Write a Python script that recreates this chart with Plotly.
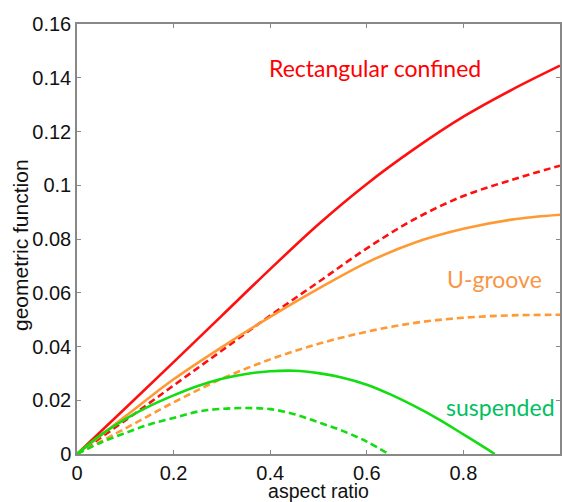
import plotly.graph_objects as go

# aspect ratio samples
x_rect_solid = [0, 0.1, 0.2, 0.3, 0.4, 0.5, 0.6, 0.7, 0.8, 0.9, 1.0]
y_rect_solid = [0, 0.017, 0.0342, 0.0515, 0.0688, 0.0855, 0.1005, 0.1137, 0.1255, 0.1355, 0.1445]

x_rect_dash = [0, 0.1, 0.2, 0.3, 0.4, 0.5, 0.6, 0.7, 0.8, 0.9, 1.0]
y_rect_dash = [0, 0.0125, 0.0255, 0.0385, 0.0515, 0.064, 0.0765, 0.0875, 0.096, 0.102, 0.1073]

x_ug_solid = [0, 0.1, 0.2, 0.3, 0.4, 0.5, 0.6, 0.7, 0.8, 0.9, 1.0]
y_ug_solid = [0, 0.014, 0.0278, 0.0398, 0.051, 0.0615, 0.0712, 0.0787, 0.0838, 0.0872, 0.089]

x_ug_dash = [0, 0.1, 0.2, 0.3, 0.4, 0.5, 0.6, 0.7, 0.8, 0.9, 1.0]
y_ug_dash = [0, 0.0095, 0.0192, 0.028, 0.0352, 0.041, 0.0455, 0.0488, 0.0507, 0.0516, 0.0518]

x_sus_solid = [0, 0.05, 0.1, 0.15, 0.2, 0.25, 0.3, 0.35, 0.4, 0.45, 0.5, 0.55, 0.6, 0.65, 0.7, 0.75, 0.8, 0.85, 0.865]
y_sus_solid = [0, 0.0072, 0.013, 0.0178, 0.0218, 0.0253, 0.028, 0.0298, 0.0308, 0.031, 0.0301, 0.0284, 0.0258, 0.0221, 0.0177, 0.0128, 0.0073, 0.0017, 0]

x_sus_dash = [0, 0.05, 0.1, 0.15, 0.2, 0.25, 0.3, 0.35, 0.4, 0.45, 0.5, 0.55, 0.6, 0.645]
y_sus_dash = [0, 0.0043, 0.0078, 0.011, 0.0134, 0.0158, 0.0168, 0.0171, 0.0167, 0.0148, 0.0118, 0.0086, 0.0046, 0]

x_ticks = [0, 0.2, 0.4, 0.6, 0.8, 1.0]
x_tick_text = ["0", "0.2", "0.4", "0.6", "0.8", "1"]
y_ticks = [0, 0.02, 0.04, 0.06, 0.08, 0.1, 0.12, 0.14, 0.16]
y_tick_text = ["0", "0.02", "0.04", "0.06", "0.08", "0.1", "0.12", "0.14", "0.16"]

RED = "#ff1010"
ORANGE = "#ff9933"
GREEN = "#11dd11"

fig = go.Figure()
series = [
    (x_rect_solid, y_rect_solid, RED, "solid"),
    (x_rect_dash, y_rect_dash, RED, "7px,4px"),
    (x_ug_solid, y_ug_solid, ORANGE, "solid"),
    (x_ug_dash, y_ug_dash, ORANGE, "7px,4px"),
    (x_sus_solid, y_sus_solid, GREEN, "solid"),
    (x_sus_dash, y_sus_dash, GREEN, "7px,4px"),
]
for xs, ys, c, d in series:
    fig.add_trace(go.Scatter(x=xs, y=ys, mode="lines",
                             line=dict(color=c, width=2.6, dash=d, shape="spline", smoothing=1.0),
                             showlegend=False, hoverinfo="skip"))

axis_common = dict(showgrid=False, zeroline=False, showline=True, linecolor="#888888", linewidth=1.5,
                   mirror="ticks", ticks="inside", ticklen=4, tickcolor="#888888",
                   tickfont=dict(family="Liberation Sans, Arial", size=20, color="#111111"))

fig.update_xaxes(range=[0, 1.0], tickvals=x_ticks, ticktext=x_tick_text,
                 title=dict(text="aspect ratio", font=dict(family="Liberation Sans, Arial", size=19.5, color="#111111"), standoff=0),
                 **axis_common)
fig.update_yaxes(range=[0, 0.16], tickvals=y_ticks, ticktext=y_tick_text, **axis_common)

# y-axis title
fig.add_annotation(text="geometric function", xref="paper", yref="paper", x=0, y=0.486,
                   xanchor="center", yanchor="middle", xshift=-57, textangle=-90, showarrow=False,
                   font=dict(family="Liberation Sans, Arial", size=21, color="#111111"))

annots = [
    ("Rectangular confined", 0.617, 0.1436, "#ff0000"),
    ("U-groove", 0.864, 0.0651, "#f79646"),
    ("suspended", 0.876, 0.0175, "#00c060"),
]
for t, ax_, ay_, c in annots:
    fig.add_annotation(x=ax_, y=ay_, text=t, showarrow=False, xanchor="center", yanchor="middle",
                       font=dict(family="Lato, Carlito, sans-serif", size=23, color=c))

fig.update_layout(width=562, height=502, margin=dict(l=77, r=0, t=24, b=48),
                  plot_bgcolor="white", paper_bgcolor="white")

fig.write_html("out.html")
